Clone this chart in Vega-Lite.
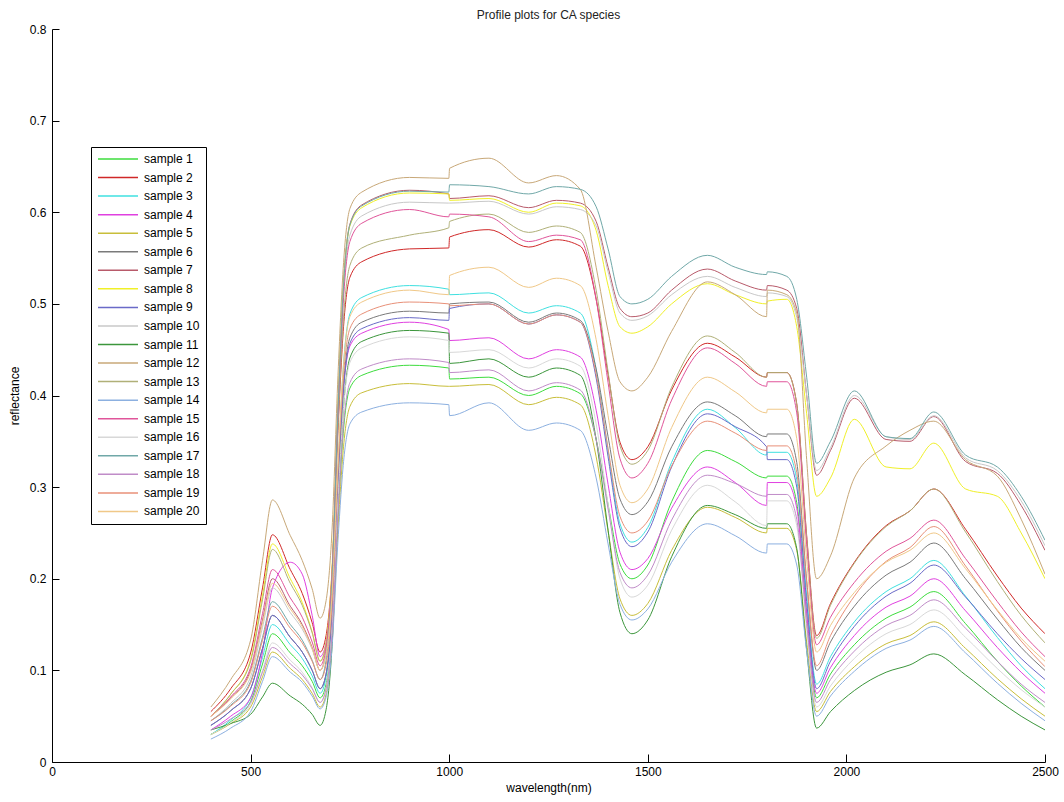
{
  "$schema": "https://vega.github.io/schema/vega-lite/v6.json",
  "width": 993,
  "height": 733,
  "autosize": {"type": "none"},
  "padding": {"left": 52, "top": 29, "right": 19, "bottom": 40},
  "background": "white",
  "title": {"text": "Profile plots for CA species", "font": "Liberation Sans", "fontSize": 12, "fontWeight": "normal", "color": "#222222", "offset": 1, "anchor": "middle"},
  "config": {
    "view": {"stroke": null},
    "axis": {"grid": false, "domainColor": "black", "tickColor": "black", "labelColor": "black", "titleColor": "black", "labelFont": "Liberation Sans", "titleFont": "Liberation Sans", "labelFontSize": 12, "titleFontSize": 12, "titleFontWeight": "normal", "domainWidth": 1, "tickWidth": 1}
  },
  "data": {"values": [
    {"w":400,"s1":0.030,"s2":0.055,"s3":0.030,"s4":0.035,"s5":0.030,"s6":0.040,"s7":0.050,"s8":0.050,"s9":0.040,"s10":0.045,"s11":0.035,"s12":0.060,"s13":0.050,"s14":0.025,"s15":0.050,"s16":0.030,"s17":0.045,"s18":0.035,"s19":0.045,"s20":0.050},
    {"w":450,"s1":0.044,"s2":0.080,"s3":0.046,"s4":0.050,"s5":0.042,"s6":0.056,"s7":0.070,"s8":0.074,"s9":0.056,"s10":0.064,"s11":0.042,"s12":0.090,"s13":0.074,"s14":0.037,"s15":0.071,"s16":0.043,"s17":0.062,"s18":0.047,"s19":0.061,"s20":0.069},
    {"w":500,"s1":0.066,"s2":0.119,"s3":0.070,"s4":0.070,"s5":0.060,"s6":0.080,"s7":0.100,"s8":0.112,"s9":0.080,"s10":0.093,"s11":0.052,"s12":0.133,"s13":0.110,"s14":0.055,"s15":0.103,"s16":0.063,"s17":0.088,"s18":0.065,"s19":0.086,"s20":0.098},
    {"w":530,"s1":0.107,"s2":0.190,"s3":0.114,"s4":0.120,"s5":0.093,"s6":0.124,"s7":0.155,"s8":0.182,"s9":0.124,"s10":0.147,"s11":0.071,"s12":0.220,"s13":0.177,"s14":0.088,"s15":0.162,"s16":0.100,"s17":0.136,"s18":0.098,"s19":0.133,"s20":0.152},
    {"w":555,"s1":0.140,"s2":0.248,"s3":0.150,"s4":0.190,"s5":0.120,"s6":0.160,"s7":0.200,"s8":0.238,"s9":0.160,"s10":0.190,"s11":0.086,"s12":0.286,"s13":0.232,"s14":0.115,"s15":0.210,"s16":0.130,"s17":0.175,"s18":0.125,"s19":0.170,"s20":0.195},
    {"w":600,"s1":0.119,"s2":0.210,"s3":0.128,"s4":0.218,"s5":0.102,"s6":0.136,"s7":0.170,"s8":0.200,"s9":0.136,"s10":0.163,"s11":0.072,"s12":0.247,"s13":0.195,"s14":0.098,"s15":0.179,"s16":0.111,"s17":0.150,"s18":0.107,"s19":0.146,"s20":0.167},
    {"w":630,"s1":0.105,"s2":0.184,"s3":0.113,"s4":0.205,"s5":0.090,"s6":0.120,"s7":0.150,"s8":0.174,"s9":0.120,"s10":0.145,"s11":0.063,"s12":0.220,"s13":0.171,"s14":0.087,"s15":0.158,"s16":0.098,"s17":0.133,"s18":0.095,"s19":0.130,"s20":0.148},
    {"w":655,"s1":0.088,"s2":0.152,"s3":0.094,"s4":0.160,"s5":0.075,"s6":0.100,"s7":0.125,"s8":0.142,"s9":0.100,"s10":0.123,"s11":0.052,"s12":0.189,"s13":0.141,"s14":0.072,"s15":0.131,"s16":0.081,"s17":0.111,"s18":0.080,"s19":0.110,"s20":0.124},
    {"w":675,"s1":0.070,"s2":0.120,"s3":0.075,"s4":0.115,"s5":0.060,"s6":0.080,"s7":0.100,"s8":0.110,"s9":0.080,"s10":0.100,"s11":0.040,"s12":0.157,"s13":0.110,"s14":0.058,"s15":0.105,"s16":0.065,"s17":0.090,"s18":0.065,"s19":0.090,"s20":0.100},
    {"w":690,"s1":0.085,"s2":0.138,"s3":0.093,"s4":0.130,"s5":0.074,"s6":0.096,"s7":0.121,"s8":0.130,"s9":0.096,"s10":0.120,"s11":0.057,"s12":0.176,"s13":0.129,"s14":0.071,"s15":0.125,"s16":0.081,"s17":0.111,"s18":0.080,"s19":0.106,"s20":0.117},
    {"w":705,"s1":0.143,"s2":0.208,"s3":0.164,"s4":0.188,"s5":0.131,"s6":0.162,"s7":0.205,"s8":0.212,"s9":0.161,"s10":0.202,"s11":0.126,"s12":0.253,"s13":0.203,"s14":0.125,"s15":0.205,"s16":0.145,"s17":0.197,"s18":0.140,"s19":0.172,"s20":0.183},
    {"w":720,"s1":0.270,"s2":0.362,"s3":0.320,"s4":0.316,"s5":0.254,"s6":0.307,"s7":0.388,"s8":0.391,"s9":0.303,"s10":0.381,"s11":0.277,"s12":0.422,"s13":0.366,"s14":0.242,"s15":0.379,"s16":0.284,"s17":0.383,"s18":0.271,"s19":0.317,"s20":0.328},
    {"w":735,"s1":0.368,"s2":0.481,"s3":0.440,"s4":0.414,"s5":0.349,"s6":0.418,"s7":0.530,"s8":0.529,"s9":0.412,"s10":0.519,"s11":0.393,"s12":0.551,"s13":0.491,"s14":0.332,"s15":0.513,"s16":0.392,"s17":0.527,"s18":0.373,"s19":0.428,"s20":0.440},
    {"w":750,"s1":0.408,"s2":0.529,"s3":0.489,"s4":0.454,"s5":0.388,"s6":0.463,"s7":0.587,"s8":0.585,"s9":0.457,"s10":0.575,"s11":0.441,"s12":0.604,"s13":0.542,"s14":0.369,"s15":0.568,"s16":0.436,"s17":0.586,"s18":0.414,"s19":0.473,"s20":0.486},
    {"w":780,"s1":0.422,"s2":0.546,"s3":0.507,"s4":0.468,"s5":0.403,"s6":0.480,"s7":0.608,"s8":0.605,"s9":0.473,"s10":0.596,"s11":0.459,"s12":0.622,"s13":0.561,"s14":0.382,"s15":0.588,"s16":0.452,"s17":0.607,"s18":0.429,"s19":0.489,"s20":0.502},
    {"w":900,"s1":0.433,"s2":0.560,"s3":0.520,"s4":0.480,"s5":0.413,"s6":0.492,"s7":0.624,"s8":0.621,"s9":0.485,"s10":0.611,"s11":0.471,"s12":0.638,"s13":0.575,"s14":0.392,"s15":0.603,"s16":0.464,"s17":0.623,"s18":0.440,"s19":0.502,"s20":0.515},
    {"w":999,"s1":0.430,"s2":0.561,"s3":0.516,"s4":0.472,"s5":0.410,"s6":0.490,"s7":0.620,"s8":0.620,"s9":0.482,"s10":0.610,"s11":0.468,"s12":0.637,"s13":0.583,"s14":0.390,"s15":0.595,"s16":0.460,"s17":0.622,"s18":0.436,"s19":0.500,"s20":0.510},
    {"w":1001,"s1":0.418,"s2":0.573,"s3":0.510,"s4":0.460,"s5":0.410,"s6":0.500,"s7":0.615,"s8":0.613,"s9":0.495,"s10":0.610,"s11":0.435,"s12":0.648,"s13":0.590,"s14":0.378,"s15":0.598,"s16":0.447,"s17":0.630,"s18":0.425,"s19":0.498,"s20":0.531},
    {"w":1100,"s1":0.420,"s2":0.581,"s3":0.512,"s4":0.463,"s5":0.412,"s6":0.502,"s7":0.618,"s8":0.615,"s9":0.500,"s10":0.612,"s11":0.440,"s12":0.659,"s13":0.598,"s14":0.392,"s15":0.595,"s16":0.450,"s17":0.628,"s18":0.428,"s19":0.500,"s20":0.540},
    {"w":1200,"s1":0.400,"s2":0.562,"s3":0.490,"s4":0.440,"s5":0.390,"s6":0.480,"s7":0.605,"s8":0.600,"s9":0.478,"s10":0.598,"s11":0.420,"s12":0.632,"s13":0.578,"s14":0.362,"s15":0.568,"s16":0.430,"s17":0.620,"s18":0.405,"s19":0.478,"s20":0.518},
    {"w":1270,"s1":0.410,"s2":0.570,"s3":0.498,"s4":0.450,"s5":0.398,"s6":0.490,"s7":0.613,"s8":0.610,"s9":0.488,"s10":0.606,"s11":0.430,"s12":0.640,"s13":0.585,"s14":0.370,"s15":0.575,"s16":0.440,"s17":0.628,"s18":0.414,"s19":0.488,"s20":0.528},
    {"w":1330,"s1":0.402,"s2":0.563,"s3":0.490,"s4":0.442,"s5":0.390,"s6":0.482,"s7":0.610,"s8":0.607,"s9":0.480,"s10":0.603,"s11":0.422,"s12":0.625,"s13":0.578,"s14":0.362,"s15":0.570,"s16":0.432,"s17":0.625,"s18":0.406,"s19":0.480,"s20":0.520},
    {"w":1370,"s1":0.352,"s2":0.505,"s3":0.428,"s4":0.384,"s5":0.333,"s6":0.429,"s7":0.590,"s8":0.580,"s9":0.419,"s10":0.585,"s11":0.352,"s12":0.540,"s13":0.515,"s14":0.310,"s15":0.505,"s16":0.369,"s17":0.606,"s18":0.352,"s19":0.423,"s20":0.461},
    {"w":1400,"s1":0.281,"s2":0.423,"s3":0.340,"s4":0.303,"s5":0.252,"s6":0.355,"s7":0.540,"s8":0.520,"s9":0.333,"s10":0.535,"s11":0.253,"s12":0.470,"s13":0.426,"s14":0.238,"s15":0.414,"s16":0.281,"s17":0.560,"s18":0.276,"s19":0.342,"s20":0.378},
    {"w":1430,"s1":0.216,"s2":0.349,"s3":0.260,"s4":0.229,"s5":0.178,"s6":0.287,"s7":0.495,"s8":0.475,"s9":0.255,"s10":0.490,"s11":0.163,"s12":0.415,"s13":0.345,"s14":0.172,"s15":0.331,"s16":0.200,"s17":0.508,"s18":0.207,"s19":0.268,"s20":0.302},
    {"w":1460,"s1":0.200,"s2":0.330,"s3":0.240,"s4":0.210,"s5":0.160,"s6":0.270,"s7":0.486,"s8":0.468,"s9":0.235,"s10":0.482,"s11":0.140,"s12":0.405,"s13":0.325,"s14":0.155,"s15":0.310,"s16":0.180,"s17":0.500,"s18":0.190,"s19":0.250,"s20":0.283},
    {"w":1500,"s1":0.215,"s2":0.344,"s3":0.256,"s4":0.222,"s5":0.173,"s6":0.284,"s7":0.490,"s8":0.475,"s9":0.251,"s10":0.487,"s11":0.155,"s12":0.420,"s13":0.340,"s14":0.167,"s15":0.326,"s16":0.193,"s17":0.505,"s18":0.204,"s19":0.263,"s20":0.298},
    {"w":1560,"s1":0.284,"s2":0.406,"s3":0.327,"s4":0.277,"s5":0.231,"s6":0.344,"s7":0.515,"s8":0.500,"s9":0.322,"s10":0.510,"s11":0.224,"s12":0.470,"s13":0.409,"s14":0.218,"s15":0.395,"s16":0.253,"s17":0.530,"s18":0.264,"s19":0.323,"s20":0.365},
    {"w":1650,"s1":0.340,"s2":0.457,"s3":0.385,"s4":0.322,"s5":0.278,"s6":0.393,"s7":0.538,"s8":0.522,"s9":0.380,"s10":0.530,"s11":0.280,"s12":0.524,"s13":0.465,"s14":0.260,"s15":0.452,"s16":0.302,"s17":0.553,"s18":0.313,"s19":0.372,"s20":0.420},
    {"w":1720,"s1":0.328,"s2":0.442,"s3":0.365,"s4":0.305,"s5":0.267,"s6":0.378,"s7":0.525,"s8":0.510,"s9":0.366,"s10":0.518,"s11":0.270,"s12":0.510,"s13":0.447,"s14":0.247,"s15":0.435,"s16":0.284,"s17":0.540,"s18":0.304,"s19":0.359,"s20":0.404},
    {"w":1799,"s1":0.310,"s2":0.420,"s3":0.335,"s4":0.280,"s5":0.250,"s6":0.355,"s7":0.515,"s8":0.500,"s9":0.344,"s10":0.508,"s11":0.255,"s12":0.486,"s13":0.420,"s14":0.228,"s15":0.410,"s16":0.258,"s17":0.532,"s18":0.290,"s19":0.340,"s20":0.381},
    {"w":1801,"s1":0.312,"s2":0.425,"s3":0.338,"s4":0.305,"s5":0.255,"s6":0.358,"s7":0.520,"s8":0.503,"s9":0.330,"s10":0.512,"s11":0.260,"s12":0.515,"s13":0.425,"s14":0.238,"s15":0.415,"s16":0.285,"s17":0.535,"s18":0.292,"s19":0.345,"s20":0.385},
    {"w":1850,"s1":0.312,"s2":0.425,"s3":0.338,"s4":0.305,"s5":0.255,"s6":0.358,"s7":0.515,"s8":0.505,"s9":0.330,"s10":0.508,"s11":0.260,"s12":0.510,"s13":0.425,"s14":0.238,"s15":0.415,"s16":0.285,"s17":0.530,"s18":0.292,"s19":0.345,"s20":0.385},
    {"w":1875,"s1":0.283,"s2":0.391,"s3":0.308,"s4":0.277,"s5":0.231,"s6":0.327,"s7":0.495,"s8":0.475,"s9":0.300,"s10":0.485,"s11":0.233,"s12":0.490,"s13":0.390,"s14":0.215,"s15":0.381,"s16":0.258,"s17":0.505,"s18":0.265,"s19":0.316,"s20":0.353},
    {"w":1900,"s1":0.162,"s2":0.247,"s3":0.181,"s4":0.162,"s5":0.131,"s6":0.198,"s7":0.400,"s8":0.380,"s9":0.175,"s10":0.400,"s11":0.122,"s12":0.330,"s13":0.245,"s14":0.121,"s15":0.237,"s16":0.146,"s17":0.420,"s18":0.151,"s19":0.196,"s20":0.221},
    {"w":1925,"s1":0.070,"s2":0.138,"s3":0.085,"s4":0.075,"s5":0.055,"s6":0.100,"s7":0.313,"s8":0.290,"s9":0.080,"s10":0.318,"s11":0.037,"s12":0.200,"s13":0.135,"s14":0.050,"s15":0.128,"s16":0.060,"s17":0.326,"s18":0.065,"s19":0.105,"s20":0.120},
    {"w":1960,"s1":0.096,"s2":0.173,"s3":0.115,"s4":0.103,"s5":0.077,"s6":0.131,"s7":0.340,"s8":0.310,"s9":0.110,"s10":0.343,"s11":0.055,"s12":0.225,"s13":0.171,"s14":0.072,"s15":0.158,"s16":0.083,"s17":0.350,"s18":0.090,"s19":0.138,"s20":0.149},
    {"w":2020,"s1":0.128,"s2":0.218,"s3":0.153,"s4":0.138,"s5":0.104,"s6":0.170,"s7":0.397,"s8":0.374,"s9":0.148,"s10":0.400,"s11":0.078,"s12":0.310,"s13":0.217,"s14":0.099,"s15":0.196,"s16":0.113,"s17":0.405,"s18":0.121,"s19":0.181,"s20":0.185},
    {"w":2100,"s1":0.157,"s2":0.258,"s3":0.186,"s4":0.169,"s5":0.129,"s6":0.204,"s7":0.352,"s8":0.322,"s9":0.181,"s10":0.355,"s11":0.098,"s12":0.345,"s13":0.257,"s14":0.124,"s15":0.230,"s16":0.140,"s17":0.355,"s18":0.149,"s19":0.219,"s20":0.218},
    {"w":2160,"s1":0.169,"s2":0.274,"s3":0.200,"s4":0.181,"s5":0.138,"s6":0.218,"s7":0.350,"s8":0.320,"s9":0.195,"s10":0.352,"s11":0.106,"s12":0.362,"s13":0.274,"s14":0.133,"s15":0.244,"s16":0.150,"s17":0.353,"s18":0.160,"s19":0.234,"s20":0.231},
    {"w":2220,"s1":0.186,"s2":0.298,"s3":0.220,"s4":0.200,"s5":0.153,"s6":0.239,"s7":0.377,"s8":0.348,"s9":0.215,"s10":0.378,"s11":0.118,"s12":0.372,"s13":0.298,"s14":0.148,"s15":0.264,"s16":0.166,"s17":0.382,"s18":0.177,"s19":0.257,"s20":0.250},
    {"w":2300,"s1":0.151,"s2":0.254,"s3":0.181,"s4":0.165,"s5":0.124,"s6":0.200,"s7":0.328,"s8":0.298,"s9":0.180,"s10":0.332,"s11":0.095,"s12":0.330,"s13":0.251,"s14":0.119,"s15":0.222,"s16":0.136,"s17":0.335,"s18":0.146,"s19":0.214,"s20":0.211},
    {"w":2380,"s1":0.110,"s2":0.203,"s3":0.136,"s4":0.125,"s5":0.091,"s6":0.156,"s7":0.315,"s8":0.290,"s9":0.140,"s10":0.318,"s11":0.068,"s12":0.312,"s13":0.197,"s14":0.086,"s15":0.175,"s16":0.102,"s17":0.322,"s18":0.110,"s19":0.165,"s20":0.166},
    {"w":2440,"s1":0.083,"s2":0.168,"s3":0.105,"s4":0.098,"s5":0.069,"s6":0.125,"s7":0.280,"s8":0.250,"s9":0.113,"s10":0.285,"s11":0.050,"s12":0.265,"s13":0.160,"s14":0.064,"s15":0.142,"s16":0.079,"s17":0.290,"s18":0.085,"s19":0.132,"s20":0.135},
    {"w":2500,"s1":0.060,"s2":0.140,"s3":0.080,"s4":0.075,"s5":0.050,"s6":0.100,"s7":0.231,"s8":0.200,"s9":0.090,"s10":0.236,"s11":0.035,"s12":0.205,"s13":0.130,"s14":0.045,"s15":0.115,"s16":0.060,"s17":0.242,"s18":0.065,"s19":0.104,"s20":0.110}
  ]},
  "transform": [
    {"fold": ["s1","s2","s3","s4","s5","s6","s7","s8","s9","s10","s11","s12","s13","s14","s15","s16","s17","s18","s19","s20"], "as": ["sample", "v"]}
  ],
  "mark": {"type": "line", "strokeWidth": 1, "clip": true, "interpolate": "monotone"},
  "encoding": {
    "x": {
      "field": "w", "type": "quantitative",
      "scale": {"domain": [0, 2500], "nice": false, "zero": false},
      "axis": {"title": "wavelength(nm)", "values": [0, 500, 1000, 1500, 2000, 2500], "format": "d", "tickSize": -8, "labelPadding": 12, "titlePadding": 5, "labelFlush": false}
    },
    "y": {
      "field": "v", "type": "quantitative",
      "scale": {"domain": [0, 0.8], "nice": false},
      "axis": {"title": "reflectance", "values": [0, 0.1, 0.2, 0.3, 0.4, 0.5, 0.6, 0.7, 0.8], "format": "~g", "tickSize": -7, "labelPadding": 13, "titlePadding": 8, "labelFlush": false}
    },
    "color": {
      "field": "sample", "type": "nominal",
      "scale": {
        "domain": ["s1","s2","s3","s4","s5","s6","s7","s8","s9","s10","s11","s12","s13","s14","s15","s16","s17","s18","s19","s20"],
        "range": ["#3ddc3d","#d02828","#3fe0e0","#e040e0","#c8be3a","#7a7a7a","#b85a6a","#f0f028","#6a6ac8","#c8c8c8","#3c963c","#c8a878","#b0b078","#8cb0e0","#e0559a","#d8d8d8","#70a8a8","#c08cc8","#e89078","#f0c888"]
      },
      "legend": {"orient": "none", "legendX": 39, "legendY": 118, "title": null, "symbolType": "M-1,0H7", "symbolSize": 100, "symbolStrokeWidth": 1.5, "labelFont": "Liberation Sans", "labelFontSize": 12, "labelColor": "black", "strokeColor": "black", "fillColor": "white", "padding": 6, "rowPadding": 6.55, "labelOffset": 35, "labelExpr": "'sample ' + slice(datum.label, 1)"}
    }
  }
}
